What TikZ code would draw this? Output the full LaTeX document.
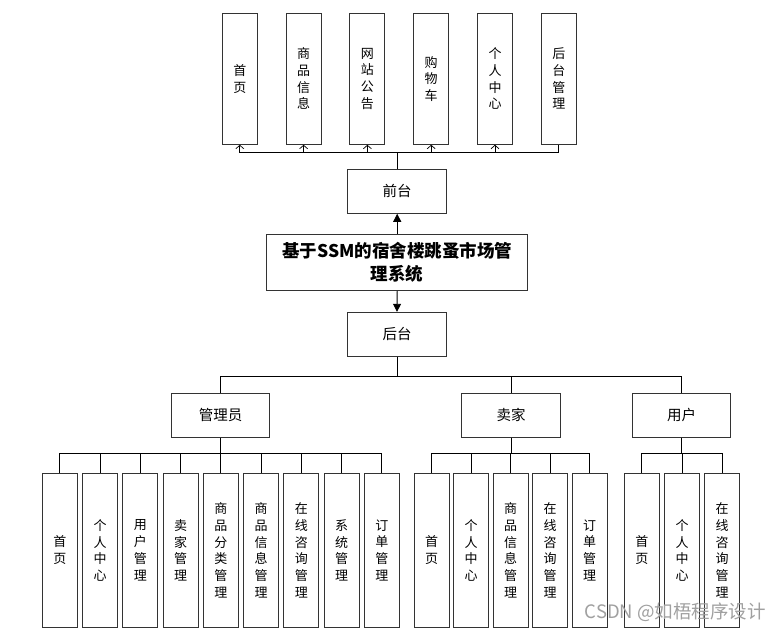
\documentclass[tikz,border=0pt]{standalone}
\usepackage{fontspec}
\setmainfont{Noto Sans CJK SC}
\usetikzlibrary{arrows.meta}
\definecolor{boxc}{HTML}{333333}
\definecolor{wm}{HTML}{A0A0A0}
\tikzset{
  box/.style={draw=boxc, line width=1pt, fill=white, inner sep=0pt, align=center},
  leaf/.style={box, minimum width=35pt, font=\fontsize{13}{16.7}\selectfont},
  topleaf/.style={leaf, minimum height=131pt},
  botleaf/.style={leaf, minimum height=154pt},
  mid/.style={box, minimum width=98.5pt, minimum height=44pt, font=\fontsize{14.5}{17}\selectfont},
  conn/.style={draw=black, line width=0.9pt},
  openarr/.style={conn, -{Straight Barb[length=3.5pt,width=8pt,line width=0.7pt]}},
  fillarr/.style={conn, -{Triangle[length=8pt,width=8pt]}},
}
\begin{document}
\begin{tikzpicture}[x=1pt,y=-1pt]
\useasboundingbox (0,0) rectangle (781,636);
\fill[white] (0,0) rectangle (781,636);
% top leaves
\node[topleaf] (t1) at (239.8,78.8) {首\\页};
\node[topleaf] (t2) at (303.6,78.8) {商\\品\\信\\息};
\node[topleaf] (t3) at (367.4,78.8) {网\\站\\公\\告};
\node[topleaf] (t4) at (431.2,78.8) {购\\物\\车};
\node[topleaf] (t5) at (495.0,78.8) {个\\人\\中\\心};
\node[topleaf] (t6) at (558.8,78.8) {后\\台\\管\\理};
% middle
\node[mid] (front) at (397.2,191.3) {前台};
\node[box, minimum width=261pt, minimum height=56pt, font=\fontsize{17.5}{23}\selectfont\bfseries] (main) at (397.2,262.3) {基于SSM的宿舍楼跳蚤市场管\\理系统};
\node[mid] (back) at (397.0,334.3) {后台};
\node[mid] (adm) at (220.7,415) {管理员};
\node[mid] (sel) at (511.0,415) {卖家};
\node[mid] (usr) at (681.7,415) {用户};
% admin leaves
\node[botleaf] (a1) at (59.8,550.3) {首\\页};
\node[botleaf] (a2) at (100.05,550.3) {个\\人\\中\\心};
\node[botleaf] (a3) at (140.3,550.3) {用\\户\\管\\理};
\node[botleaf] (a4) at (180.55,550.3) {卖\\家\\管\\理};
\node[botleaf] (a5) at (220.8,550.3) {商\\品\\分\\类\\管\\理};
\node[botleaf] (a6) at (261.05,550.3) {商\\品\\信\\息\\管\\理};
\node[botleaf] (a7) at (301.3,550.3) {在\\线\\咨\\询\\管\\理};
\node[botleaf] (a8) at (341.55,550.3) {系\\统\\管\\理};
\node[botleaf] (a9) at (381.8,550.3) {订\\单\\管\\理};
% seller leaves
\node[botleaf] (s1) at (431.5,550.3) {首\\页};
\node[botleaf] (s2) at (471.0,550.3) {个\\人\\中\\心};
\node[botleaf] (s3) at (510.5,550.3) {商\\品\\信\\息\\管\\理};
\node[botleaf] (s4) at (550.0,550.3) {在\\线\\咨\\询\\管\\理};
\node[botleaf] (s5) at (589.5,550.3) {订\\单\\管\\理};
% user leaves
\node[botleaf] (u1) at (641.8,550.3) {首\\页};
\node[botleaf] (u2) at (682.0,550.3) {个\\人\\中\\心};
\node[botleaf] (u3) at (722.2,550.3) {在\\线\\咨\\询\\管\\理};
% junctions
\coordinate (fb) at (397.2,152.7);
\coordinate (bb) at (397.0,376.7);
\coordinate (ab) at (220.7,453.3);
\coordinate (sb) at (511.0,453.3);
\coordinate (ub) at (681.7,453.3);
% top connectors
\draw[conn] (front.north) -- (fb);
\foreach \i in {1,...,5} \draw[openarr] (fb) -| (t\i.south);
\draw[conn] (fb) -| (t6.south);
% main arrows
\draw[fillarr] (main.north) -- (front.south);
\draw[fillarr] (main.south) -- (back.north);
% back connectors
\draw[conn] (back.south) -- (bb);
\draw[conn] (bb) -| (adm.north);
\draw[conn] (bb) -| (sel.north);
\draw[conn] (bb) -| (usr.north);
% admin
\draw[conn] (adm.south) -- (ab);
\foreach \i in {1,...,9} \draw[conn] (ab) -| (a\i.north);
\draw[conn] (sel.south) -- (sb);
\foreach \i in {1,...,5} \draw[conn] (sb) -| (s\i.north);
\draw[conn] (usr.south) -- (ub);
\foreach \i in {1,...,3} \draw[conn] (ub) -| (u\i.north);
% watermark
\node[text=wm, font=\fontsize{18.5}{20}\selectfont, anchor=east, inner sep=0pt] (wmk) at (766,612) {CSDN @如梧程序设计};
\end{tikzpicture}
\end{document}
